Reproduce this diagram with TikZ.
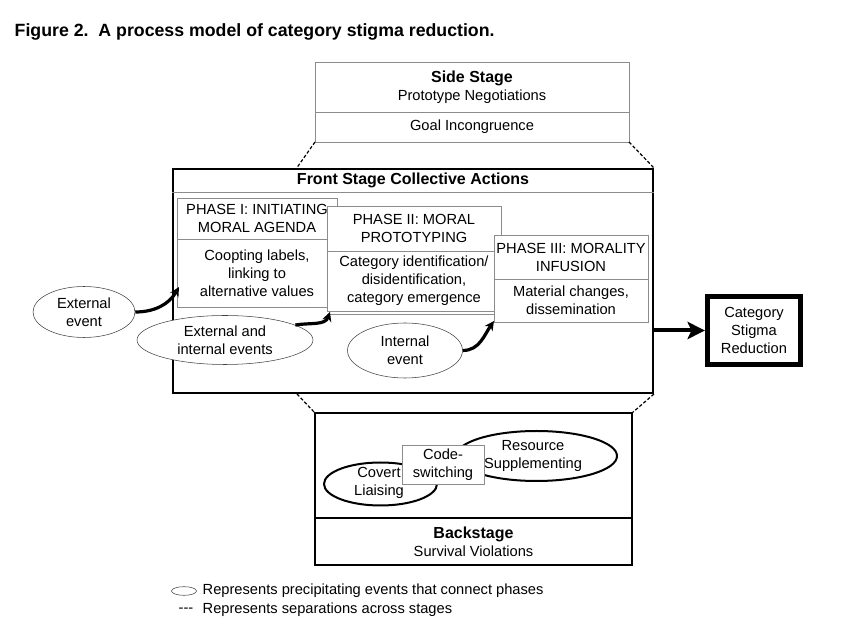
\documentclass[tikz,border=0pt]{standalone}
\usepackage{fontspec}
\setmainfont{Liberation Sans}
\usetikzlibrary{positioning, calc, shapes.geometric, arrows.meta}

\begin{document}
\begin{tikzpicture}[x=0.75pt, y=-0.75pt, font=\fontsize{11}{13.5}\selectfont]%
        \tikzstyle{stagebox} = [draw=black!45, fill=white, inner sep=0pt, outer sep=0pt, align=center]
        \tikzstyle{phase} = [draw=black!45, fill=white, inner sep=0pt, outer sep=0pt, align=center]
        \tikzstyle{head} = [font=\fontsize{12}{14}\selectfont\bfseries]
        \tikzstyle{event} = [ellipse, draw=black!75, fill=white, inner sep=0pt, align=center]
        \tikzstyle{backevent} = [ellipse, draw=black, line width=1.5pt, fill=white, inner sep=0pt]
        \tikzstyle{flow} = [-{Stealth[length=7pt, width=7pt]}, line width=2.4pt]
        \tikzstyle{bigflow} = [-{Stealth[length=13pt, width=13pt, inset=3pt]}, line width=3pt]
        \tikzstyle{sep} = [dash pattern=on 2.5pt off 1.5pt, line width=0.9pt]

        \useasboundingbox (0,0) rectangle (847,630);

        \node[anchor=west, font=\fontsize{13.3}{15}\selectfont\bfseries] (title) at (10,32)
          {Figure 2.\ \ A process model of category stigma reduction.};

        % side stage
        \node[stagebox, minimum width=235.5pt, minimum height=37.5pt] (sidetop) at (472,87)
          {{\fontsize{12}{14}\selectfont\bfseries Side Stage}\\Prototype Negotiations};
        \node[stagebox, minimum width=235.5pt, minimum height=22.5pt, below=0pt of sidetop] (sidebot)
          {Goal Incongruence};

        % front stage
        \node[draw, line width=1.5pt, minimum width=360pt, minimum height=168pt] (front) at (413,281) {};
        \node[head] (fronttitle) at (413,180) {Front Stage Collective Actions};
        \coordinate (frontrule) at (413,192);
        \draw[black!45] (front.west |- frontrule) -- (front.east |- frontrule);

        \node[phase, minimum width=120pt, minimum height=30.75pt] (phaseIhead) at (257,218.5)
          {PHASE I: INITIATING\\MORAL AGENDA};
        \node[phase, minimum width=120pt, minimum height=51pt, below=0pt of phaseIhead] (phaseIbody)
          {Coopting labels,\\linking to\\alternative values};

        \node[phase, minimum width=130.5pt, minimum height=33.75pt] (phaseIIhead) at (414,228.5)
          {PHASE II: MORAL\\PROTOTYPING};
        \node[phase, minimum width=130.5pt, minimum height=45pt, below=0pt of phaseIIhead] (phaseIIbody)
          {Category identification/\\disidentification,\\category emergence};
        \draw[black!45] ($(phaseIIbody.south west)+(0,3)$) -- ($(phaseIIbody.south east)+(0,3)$);

        \node[phase, minimum width=115.5pt, minimum height=33pt] (phaseIIIhead) at (571,257)
          {PHASE III: MORALITY\\INFUSION};
        \node[phase, minimum width=115.5pt, minimum height=32.25pt, below=0pt of phaseIIIhead] (phaseIIIbody)
          {Material changes,\\dissemination};

        \node[event, minimum width=76.5pt, minimum height=38.25pt] (extev) at (84,312) {External\\event};
        \node[event, minimum width=132pt, minimum height=36.75pt] (extint) at (225,340) {External and\\internal events};
        \node[event, minimum width=86.25pt, minimum height=41.25pt] (intev) at (405,350.5) {Internal\\event};

        \draw[flow] (extev.east) to[out=0, in=240] ($(phaseIbody.south west)+(2,-20)$);
        \draw[flow] (extint.12) to[out=10, in=250] ($(phaseIIbody.south west)+(3,1)$);
        \draw[flow] (intev.east) to[out=0, in=235] ($(phaseIIIbody.south west)+(0,-1)$);

        % outcome
        \node[draw, line width=3.75pt, minimum width=70pt, minimum height=51pt, align=center] (cat) at (754,330.5)
          {Category\\Stigma\\Reduction};
        \draw[bigflow] (front.east |- cat.west) -- (cat.west);

        % backstage
        \node[stagebox, draw=black, line width=1.1pt, minimum width=237.75pt, minimum height=78.75pt] (backtop) at (473.5,465.5) {};
        \node[stagebox, draw=black, line width=1.1pt, minimum width=237.75pt, minimum height=35.25pt, below=0pt of backtop] (backbot)
          {{\fontsize{12}{14}\selectfont\bfseries Backstage}\\Survival Violations};

        \node[backevent, minimum width=120.75pt, minimum height=37.5pt] (resource) at (536.5,456) {};
        \node[align=center] (resourcetext) at (533,456) {Resource\\Supplementing};
        \node[backevent, minimum width=84.75pt, minimum height=32.25pt] (covert) at (380.5,484) {};
        \node[align=center] (coverttext) at (379,482.5) {Covert\\Liaising};
        \node[phase, minimum width=61.5pt, minimum height=29.25pt] (codesw) at (443,464.5) {Code-\\switching};

        % stage separations
        \coordinate (sideleft) at (296,169);
        \coordinate (backleft) at (297,394);
        \draw[sep] (sidebot.south west) -- (sideleft);
        \draw[sep] (sidebot.south east) -- (front.north east);
        \draw[sep] (backleft) -- (backtop.north west);
        \draw[sep] (front.south east) -- (backtop.north east);

        % legend
        \node[event, minimum width=18.75pt, minimum height=6.5pt] (legendev) at (184,591) {};
        \node[anchor=west] (legendevtext) at (198,591) {Represents precipitating events that connect phases};
        \node[anchor=east] (legendsep) at (198,610) {-{}-{}-};
        \node[anchor=west] (legendseptext) at (198,610) {Represents separations across stages};
      \end{tikzpicture}
\end{document}
